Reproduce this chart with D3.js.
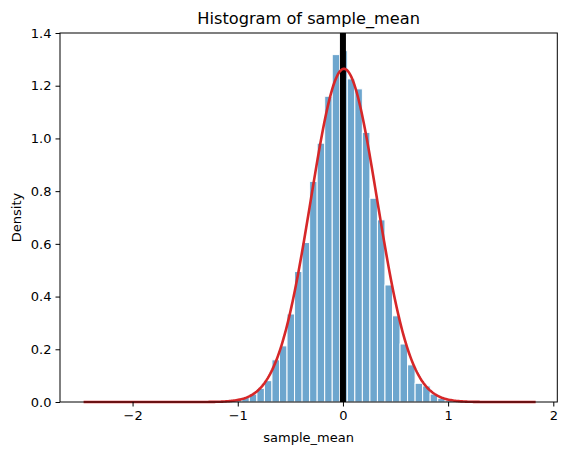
<!DOCTYPE html>
<html>
<head>
<meta charset="utf-8">
<script src="https://cdn.jsdelivr.net/npm/d3@7"></script>
<style>
  html, body { margin: 0; padding: 0; background: #fff; }
  svg { display: block; }
  text { font-family: "DejaVu Sans", Verdana, sans-serif; fill: #000; }
</style>
</head>
<body>
<svg id="chart" width="567" height="455"></svg>
<script>
// ---- data ----
const binStart = -2.4656;          // first bin edge
const binWidth = 0.07163;          // bin width
// density of each of the 60 bins
const binDensity = [
  0.0014, 0, 0, 0, 0, 0, 0, 0, 0, 0,
  0, 0, 0, 0, 0, 0, 0, 0, 0.002, 0.004,
  0.010, 0.018, 0.030, 0.052, 0.081, 0.160, 0.213, 0.334, 0.495, 0.605,
  0.837, 0.982, 1.160, 1.318, 1.333, 1.226, 1.188, 1.023, 0.773, 0.691,
  0.444, 0.327, 0.220, 0.141, 0.071, 0.061, 0.030, 0.014, 0.006, 0.003,
  0, 0, 0, 0, 0, 0, 0, 0, 0, 0.0014
];
const fitParams = [0.01, 0.3156];   // normal fit: mean, std
const curveRange = [-2.4656, 1.832];
const meanLine = [0.0];
const xTicks = [-2, -1, 0, 1, 2];
const yTicks = [0.0, 0.2, 0.4, 0.6, 0.8, 1.0, 1.2, 1.4];
const xDomain = [-2.69, 2.038];
const yDomain = [0, 1.4];

// ---- layout ----
const svg = d3.select("#chart");
const L = 60, R = 557.3, T = 33, B = 402;
const x = d3.scaleLinear().domain(xDomain).range([L, R]);
const y = d3.scaleLinear().domain(yDomain).range([B, T]);

const bins = binDensity.map((d, i) => ({
  x0: binStart + i * binWidth,
  x1: binStart + (i + 1) * binWidth,
  v: d
})).filter(b => b.v > 0);

svg.append("g").selectAll("rect").data(bins).join("rect")
  .attr("x", d => x(d.x0))
  .attr("width", d => x(d.x1) - x(d.x0))
  .attr("y", d => y(d.v))
  .attr("height", d => y(0) - y(d.v))
  .attr("fill", "#1f77b4")
  .attr("fill-opacity", 0.65)
  .attr("stroke", "#ffffff")
  .attr("stroke-width", 1);

// mean vertical line
svg.append("g").selectAll("line").data(meanLine).join("line")
  .attr("x1", d => x(d)).attr("x2", d => x(d))
  .attr("y1", T).attr("y2", B)
  .attr("stroke", "#000").attr("stroke-width", 6);

// fitted normal curve
const [mu, sd] = fitParams;
const xs = d3.range(0, 401).map(i => curveRange[0] + (curveRange[1] - curveRange[0]) * i / 400);
const pdf = v => Math.exp(-0.5 * ((v - mu) / sd) ** 2) / (sd * Math.sqrt(2 * Math.PI));
svg.append("path")
  .datum(xs)
  .attr("fill", "none")
  .attr("stroke", "#d62728")
  .attr("stroke-width", 2.6)
  .attr("d", d3.line().x(d => x(d)).y(d => y(pdf(d))));

// axes
const xAxis = svg.append("g").attr("transform", `translate(0,${B})`)
  .call(d3.axisBottom(x).tickValues(xTicks).tickSize(4.5).tickPadding(4)
    .tickFormat(d => d < 0 ? "\u2212" + Math.abs(d) : String(d)));
const yAxis = svg.append("g").attr("transform", `translate(${L},0)`)
  .call(d3.axisLeft(y).tickValues(yTicks).tickSize(4.5).tickPadding(4)
    .tickFormat(d3.format(".1f")));
[xAxis, yAxis].forEach(g => {
  g.select(".domain").remove();
  g.selectAll("line").attr("stroke", "#000").attr("stroke-width", 1);
  g.selectAll("text").style("font-size", "13px").style("font-family", '"DejaVu Sans", Verdana, sans-serif');
});

// frame
svg.append("rect").attr("x", L).attr("y", T).attr("width", R - L).attr("height", B - T)
  .attr("fill", "none").attr("stroke", "#000").attr("stroke-width", 1);

// labels
svg.append("text").attr("x", (L + R) / 2).attr("y", 23.5).attr("text-anchor", "middle")
  .style("font-size", "16.2px").text("Histogram of sample_mean");
svg.append("text").attr("x", (L + R) / 2).attr("y", 442).attr("text-anchor", "middle")
  .style("font-size", "13px").text("sample_mean");
svg.append("text").attr("transform", `translate(21,${(T + B) / 2}) rotate(-90)`)
  .attr("text-anchor", "middle").style("font-size", "13px").text("Density");
</script>
</body>
</html>
